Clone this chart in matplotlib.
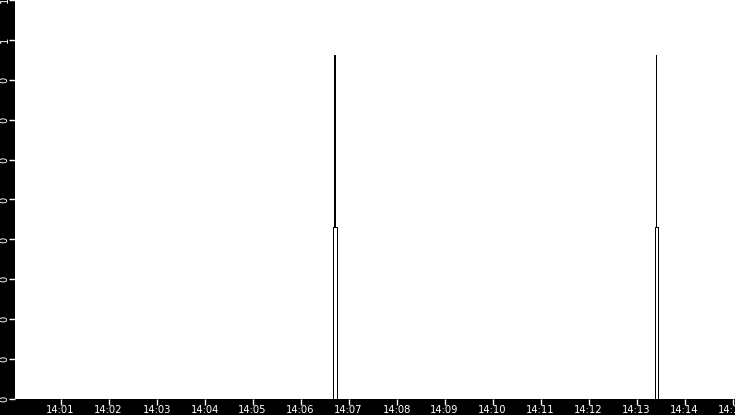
import pandas as pd
import matplotlib
matplotlib.use("Agg")
import matplotlib.pyplot as plt
import matplotlib.dates as mdates
from matplotlib.ticker import FuncFormatter

# sample times (step-post) and values
times = ["14:00:03.0",
         "14:06:41.0", "14:06:42.0", "14:06:42.5", "14:06:45.0",
         "14:13:23.0", "14:13:24.0", "14:13:24.5", "14:13:27.0",
         "14:15:03.0"]
values = [0,
          0.5, 1, 0.5, 0,
          0.5, 1, 0.5, 0,
          0]

x_start = "14:00:03.0"
x_end = "14:15:03.0"
y_max = 1.16

day = "2023-01-01 "
fmt = "%Y-%m-%d %H:%M:%S.%f"
t = pd.to_datetime([day + s for s in times], format=fmt)

fig = plt.figure(figsize=(7.35, 4.15), dpi=100, facecolor="black")
ax = fig.add_axes([15 / 735, 16 / 415, 720 / 735, 399 / 415])
ax.set_facecolor("white")

ax.plot(t, values, color="black", linewidth=0.6, drawstyle="steps-post",
        antialiased=False)

ax.set_xlim(pd.to_datetime(day + x_start, format=fmt),
            pd.to_datetime(day + x_end, format=fmt))
ax.set_ylim(0, y_max)

ax.xaxis.set_major_locator(mdates.MinuteLocator())
ax.xaxis.set_major_formatter(mdates.DateFormatter("%H:%M"))
ax.set_yticks([y_max * i / 10 for i in range(11)])
ax.yaxis.set_major_formatter(FuncFormatter(lambda v, p: str(int(v + 1e-9))))

for s in ax.spines.values():
    s.set_visible(False)

ax.tick_params(axis="x", colors="white", labelsize=7.2, length=4, width=1, pad=0.5)
ax.tick_params(axis="y", colors="white", labelsize=7.2, length=4, width=1, pad=0)
for lab in ax.get_yticklabels():
    lab.set_rotation(90)
    lab.set_va("center")

fig.savefig("out.png", dpi=100, facecolor="black")
